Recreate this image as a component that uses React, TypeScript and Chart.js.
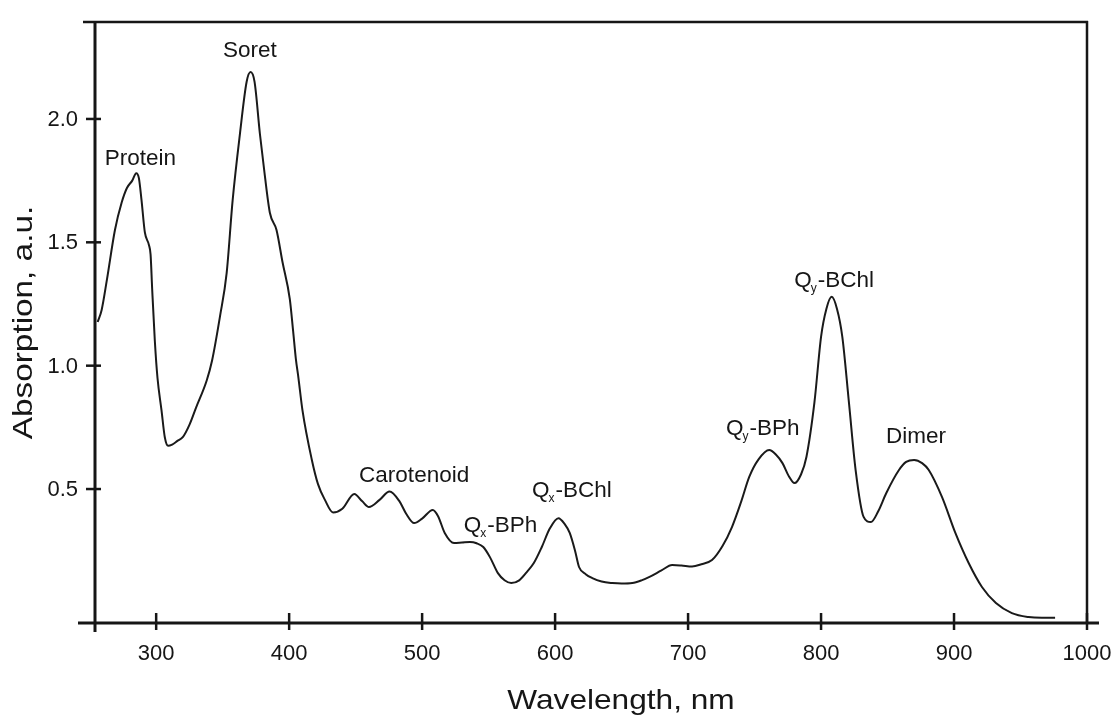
import React, { useEffect, useRef } from "react";
import { Chart, registerables } from "chart.js";

Chart.register(...registerables);

// ---- data ----
const wavelengths = [
  256, 259, 263, 269, 274, 278, 282, 285, 287, 289, 291.5, 294.5, 295.8, 297, 299, 301, 304, 306.5, 309, 312,
  316, 320, 325, 330, 338, 342, 348, 353, 357.5, 363, 368, 371, 374, 378, 381.5, 385.5, 390.5, 395, 400.5, 403,
  405, 407, 410, 417, 421.7, 427, 433, 440, 449, 455, 460, 468, 475.5, 483, 488, 494, 500, 508, 512, 517,
  524, 530, 536, 541, 546, 551, 557, 562, 567, 573, 578, 584, 590, 596, 602.5, 607, 611, 615, 618, 623,
  628, 635, 643, 650, 658, 665, 671, 680, 688, 695, 703, 710, 718, 726, 733, 740, 746, 753, 761, 766,
  771, 776, 780, 785, 789, 795, 800, 804, 808, 812, 816, 821, 826, 832, 837.5, 843, 849, 858.6, 864, 870,
  876, 881, 891, 901, 911, 921, 931.5, 943.5, 956, 966, 976,
];
const absorbance = [
  1.177, 1.226, 1.35, 1.55, 1.66, 1.72, 1.75, 1.78, 1.76, 1.67, 1.54, 1.49, 1.45, 1.31, 1.1, 0.95, 0.82, 0.71, 0.675, 0.68,
  0.695, 0.71, 0.76, 0.83, 0.94, 1.02, 1.2, 1.375, 1.67, 1.94, 2.15, 2.19, 2.15, 1.94, 1.78, 1.62, 1.55, 1.42, 1.27, 1.14,
  1.03, 0.95, 0.82, 0.62, 0.52, 0.455, 0.405, 0.42, 0.48, 0.45, 0.427, 0.456, 0.49, 0.45, 0.4, 0.362, 0.38, 0.415, 0.39, 0.322,
  0.281, 0.283, 0.285, 0.28, 0.265, 0.224, 0.159, 0.13, 0.119, 0.13, 0.159, 0.2, 0.265, 0.34, 0.382, 0.36, 0.322, 0.25, 0.184, 0.155,
  0.139, 0.125, 0.119, 0.117, 0.119, 0.13, 0.144, 0.17, 0.192, 0.19, 0.186, 0.195, 0.212, 0.27, 0.346, 0.45, 0.549, 0.62, 0.658, 0.64,
  0.605, 0.55, 0.524, 0.56, 0.63, 0.85, 1.117, 1.23, 1.279, 1.23, 1.117, 0.849, 0.577, 0.387, 0.366, 0.41, 0.483, 0.577, 0.61, 0.618,
  0.605, 0.577, 0.467, 0.322, 0.2, 0.103, 0.038, -0.003, -0.019, -0.022, -0.022,
];

const xTickValues = [300, 400, 500, 600, 700, 800, 900, 1000];
const xTickLabels = ["300", "400", "500", "600", "700", "800", "900", "1000"];
const yTickValues = [0.5, 1.0, 1.5, 2.0];
const yTickLabels = ["0.5", "1.0", "1.5", "2.0"];

const xTitle = "Wavelength, nm";
const yTitle = "Absorption, a.u.";

// peak labels: main text, subscript, remainder, anchor wavelength, anchor absorbance (baseline)
const peakMain = ["Protein", "Soret", "Carotenoid", "Q", "Q", "Q", "Q", "Dimer"];
const peakSub = ["", "", "", "x", "x", "y", "y", ""];
const peakRest = ["", "", "", "-BPh", "-BChl", "-BPh", "-BChl", ""];
const peakNm = [288.1, 370.4, 494, 558.9, 612.6, 756.1, 809.8, 871.4];
const peakAbs = [1.813, 2.251, 0.528, 0.325, 0.467, 0.719, 1.319, 0.687];

const X_MIN = 254;
const X_MAX = 1000;
const Y_MIN = -0.043;
const Y_MAX = 2.393;

const FONT = '"Liberation Sans", Arial, Helvetica, sans-serif';
const INK = "#161616";

const framePlugin = {
  id: "frameAndLabels",
  afterDraw(chart: any) {
    const ctx = chart.ctx as CanvasRenderingContext2D;
    const { left, right, top, bottom } = chart.chartArea;
    const xs = chart.scales.x;
    const ys = chart.scales.y;
    ctx.save();
    ctx.strokeStyle = INK;
    ctx.lineCap = "butt";

    // left axis
    ctx.lineWidth = 3;
    ctx.beginPath();
    ctx.moveTo(left, top - 1);
    ctx.lineTo(left, bottom + 9);
    ctx.stroke();
    // bottom axis
    ctx.beginPath();
    ctx.moveTo(left - 17, bottom);
    ctx.lineTo(right + 12, bottom);
    ctx.stroke();
    // top frame
    ctx.lineWidth = 2.5;
    ctx.beginPath();
    ctx.moveTo(left - 12, top);
    ctx.lineTo(right + 1, top);
    ctx.stroke();
    // right frame
    ctx.beginPath();
    ctx.moveTo(right, top - 1);
    ctx.lineTo(right, bottom);
    ctx.stroke();

    // x ticks + labels
    ctx.lineWidth = 2.5;
    ctx.fillStyle = INK;
    ctx.font = `22px ${FONT}`;
    ctx.textAlign = "center";
    ctx.textBaseline = "top";
    xTickValues.forEach((v, i) => {
      const px = xs.getPixelForValue(v);
      ctx.beginPath();
      ctx.moveTo(px, bottom - 10);
      ctx.lineTo(px, bottom + 7);
      ctx.stroke();
      ctx.fillText(xTickLabels[i], px, bottom + 20);
    });
    // y ticks + labels
    ctx.textAlign = "right";
    ctx.textBaseline = "middle";
    yTickValues.forEach((v, i) => {
      const py = ys.getPixelForValue(v);
      ctx.beginPath();
      ctx.moveTo(left - 9, py);
      ctx.lineTo(left + 6, py);
      ctx.stroke();
      ctx.fillText(yTickLabels[i], left - 17, py + 1);
    });

    // peak labels
    ctx.textBaseline = "alphabetic";
    ctx.textAlign = "left";
    const mainFont = `22.5px ${FONT}`;
    const subFont = `12px ${FONT}`;
    for (let i = 0; i < peakMain.length; i++) {
      ctx.font = mainFont;
      const wMain = ctx.measureText(peakMain[i]).width;
      const wRest = ctx.measureText(peakRest[i]).width;
      ctx.font = subFont;
      const wSub = peakSub[i] ? ctx.measureText(peakSub[i]).width : 0;
      const total = wMain + wSub + wRest;
      const cx = xs.getPixelForValue(peakNm[i]);
      const by = ys.getPixelForValue(peakAbs[i]);
      let x = cx - total / 2;
      ctx.font = mainFont;
      ctx.fillText(peakMain[i], x, by);
      x += wMain;
      if (peakSub[i]) {
        ctx.font = subFont;
        ctx.fillText(peakSub[i], x - 1, by + 5);
        x += wSub;
      }
      if (peakRest[i]) {
        ctx.font = mainFont;
        ctx.fillText(peakRest[i], x, by);
      }
    }

    // axis titles
    ctx.font = `28px ${FONT}`;
    ctx.textAlign = "center";
    ctx.textBaseline = "alphabetic";
    ctx.save();
    ctx.translate(621, 709);
    ctx.scale(1.13, 1);
    ctx.fillText(xTitle, 0, 0);
    ctx.restore();

    ctx.save();
    ctx.translate(32, (top + bottom) / 2);
    ctx.rotate(-Math.PI / 2);
    ctx.scale(1.19, 1);
    ctx.fillText(yTitle, 0, 0);
    ctx.restore();

    ctx.restore();
  },
};

export default function App() {
  const canvasRef = useRef<HTMLCanvasElement | null>(null);

  useEffect(() => {
    if (!canvasRef.current) return;
    const chart = new Chart(canvasRef.current, {
      type: "line",
      data: {
        datasets: [
          {
            label: "Absorption",
            data: wavelengths.map((w, i) => ({ x: w, y: absorbance[i] })),
            borderColor: "#1a1a1a",
            borderWidth: 2,
            pointRadius: 0,
            fill: false,
            cubicInterpolationMode: "monotone",
          },
        ],
      },
      options: {
        animation: false,
        responsive: true,
        maintainAspectRatio: false,
        layout: { padding: { top: 22, right: 30, left: 0, bottom: 0 } },
        plugins: {
          legend: { display: false },
          tooltip: { enabled: false },
        },
        scales: {
          x: {
            type: "linear",
            min: X_MIN,
            max: X_MAX,
            afterBuildTicks: (scale: any) => {
              scale.ticks = xTickValues.map((v) => ({ value: v }));
            },
            afterFit: (scale: any) => {
              scale.height = 95;
            },
            grid: { display: false, drawTicks: false },
            border: { display: false },
            ticks: { display: false },
          },
          y: {
            type: "linear",
            min: Y_MIN,
            max: Y_MAX,
            afterBuildTicks: (scale: any) => {
              scale.ticks = yTickValues.map((v) => ({ value: v }));
            },
            afterFit: (scale: any) => {
              scale.width = 95;
            },
            grid: { display: false, drawTicks: false },
            border: { display: false },
            ticks: { display: false },
          },
        },
      },
      plugins: [framePlugin],
    });
    return () => chart.destroy();
  }, []);

  return (
    <div style={{ position: "fixed", left: 0, top: 0, width: 1117, height: 718, background: "#fff" }}>
      <canvas ref={canvasRef} />
    </div>
  );
}
